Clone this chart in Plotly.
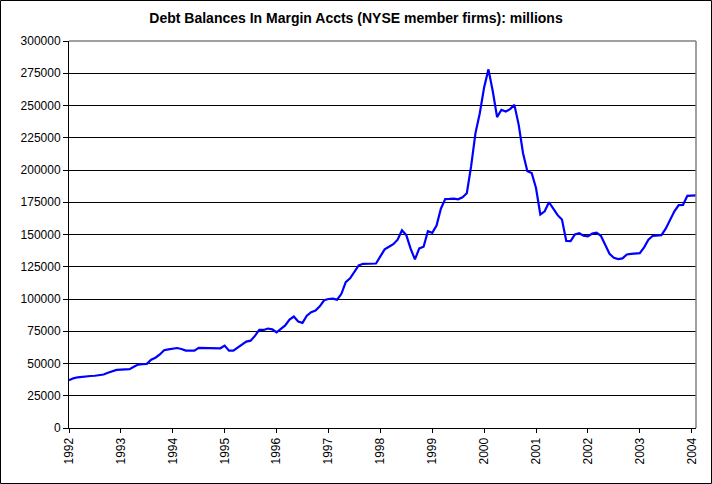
import plotly.graph_objects as go

title = "Debt Balances In Margin Accts (NYSE member firms): millions"
year_labels = ["1992", "1993", "1994", "1995", "1996", "1997", "1998",
               "1999", "2000", "2001", "2002", "2003", "2004"]

# monthly margin debt, Jan 1992 .. Feb 2004 (millions)
debt = [
    37000, 38500, 39300, 39800, 40200, 40300, 40500, 40800, 41500, 42800, 44000, 45000,
    45300, 45500, 45600, 47500, 49200, 49500, 49700, 53000, 54500, 57000, 60300, 61000,
    61500, 62000, 61200, 60000, 60000, 60000, 62100, 62000, 61900, 61800, 61800, 61800,
    63900, 60000, 60000, 62500, 64800, 67000, 67700, 71400, 76000, 76000, 77100, 76500,
    74200, 76500, 79500, 84000, 86400, 82500, 81500, 87000, 89800, 91000, 94300, 99000,
    100000, 100300, 99500, 104000, 113000, 116000, 121000, 126000, 127300, 127300, 127000, 127500,
    133000, 138500, 140500, 142500, 146000, 153300, 149500, 139000, 130700, 139200, 140500, 152600,
    151300, 157000, 170000, 177500, 177600, 177800, 177300, 178900, 182000, 203000, 228600, 244000,
    264000, 278000, 261000, 241000, 246700, 245400, 247200, 250500, 235000, 213000, 199000, 197700,
    186000, 165500, 168000, 175000, 170000, 165000, 161600, 145000, 144800, 150000, 151000, 149000,
    148500, 150800, 151500, 149000, 142000, 135000, 132000, 130900, 131500, 134500, 135000, 135000,
    135500, 140000, 146000, 149000, 149500, 149500, 154500, 161000, 168000, 172800, 173000, 180000,
    180400, 180400,
]

idx = list(range(len(debt)))
tick_pos = [12 * i for i in range(len(year_labels))]

W, H = 712, 484
L, R, T, B = 69, 16, 41, 56
pw, ph = W - L - R, H - T - B

fig = go.Figure()
fig.add_trace(go.Scatter(x=idx, y=debt, mode="lines",
                         line=dict(color="#0000FF", width=2.2),
                         hoverinfo="skip", showlegend=False))

font = "Arial, 'Liberation Sans', sans-serif"
fig.update_layout(
    width=W, height=H,
    margin=dict(l=L, r=R, t=T, b=B, autoexpand=False),
    paper_bgcolor="white", plot_bgcolor="white",
    title=dict(text="<b>" + title + "</b>", x=0.5, xanchor="center",
               y=1 - 18 / H, yanchor="middle",
               font=dict(family=font, size=14, color="black")),
    font=dict(family=font, size=12, color="black"),
    xaxis=dict(range=[0, len(debt) - 1], tickmode="array", tickvals=tick_pos,
               ticktext=year_labels, tickangle=-90, showgrid=False,
               zeroline=False, showline=True, linecolor="black", linewidth=1,
               ticks="outside", ticklen=4, tickcolor="black", automargin=False,
               tickfont=dict(family=font, size=12, color="black")),
    yaxis=dict(range=[0, 300000], dtick=25000, tick0=0, tickformat="d",
               showgrid=True, gridcolor="black", gridwidth=1,
               zeroline=False, showline=True, linecolor="black", linewidth=1,
               ticks="outside", ticklen=5, tickcolor="black", automargin=False,
               tickfont=dict(family=font, size=12, color="black")),
    shapes=[
        dict(type="line", xref="paper", yref="paper", x0=0, x1=1, y0=1, y1=1,
             line=dict(color="#808080", width=1.5), layer="above"),
        dict(type="line", xref="paper", yref="paper", x0=1, x1=1, y0=0, y1=1,
             line=dict(color="#808080", width=1.5), layer="above"),
        dict(type="rect", xref="paper", yref="paper",
             x0=(0.5 - L) / pw, x1=(W - 0.5 - L) / pw,
             y0=-(B - 0.5) / ph, y1=1 + (T - 0.5) / ph,
             line=dict(color="black", width=1), layer="above"),
    ],
)

fig.write_html("out.html", config={"displayModeBar": False, "staticPlot": True},
               post_script="document.body.style.margin='0';document.body.style.padding='0';")
